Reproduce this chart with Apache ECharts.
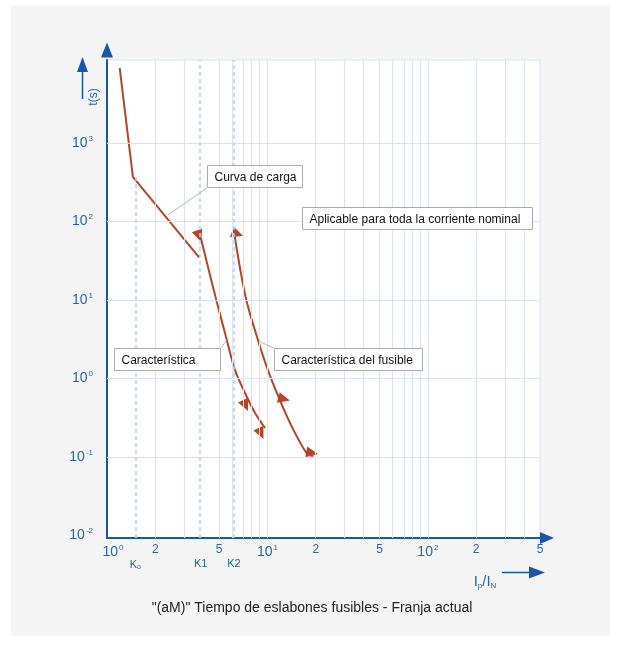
<!DOCTYPE html>
<html><head><meta charset="utf-8">
<script src="https://cdn.jsdelivr.net/npm/echarts@6/dist/echarts.min.js"></script>
<style>
html,body{margin:0;padding:0;background:#fff;}
#panel{position:absolute;left:11px;top:6px;width:599px;height:630px;background:#f4f4f4;}
#c{position:absolute;left:0;top:0;width:621px;height:649px;}
</style>
</head><body><div id="panel"></div><div id="c"></div>
<script>
// ---------- DATA ----------
// Load curve (Curva de carga): I/In and t(s)
const loadI = [1.2, 1.45, 3.75];
const loadT = [9000, 369, 35];
// Characteristic (Característica)
const charI = [3.85, 4.28, 4.83, 5.52, 6.28, 7.25, 8.37, 9.66];
const charT = [61, 25.4, 9.5, 3.38, 1.28, 0.653, 0.364, 0.234];
// Fuse characteristic (Característica del fusible)
const fuseI = [6.19, 6.75, 7.43, 8.61, 9.9, 11.7, 14.2, 17.6, 19.3];
const fuseT = [73.5, 25.4, 9.5, 3.38, 1.41, 0.586, 0.243, 0.111, 0.103];
// Arrow heads on the curves
const arrowI = [3.75, 7.30, 9.11, 6.51, 12.7, 19.0];
const arrowT = [65.3, 0.452, 0.199, 69.3, 0.548, 0.1125];
// Axis ranges
const xMin = 1, xMax = 500;
const yMin = 0.0093, yMax = 11400;
// Tick labels
const xTickValues = [1, 2, 5, 10, 20, 50, 100, 200, 500];
const xTickLabels = ['10|0', '2', '5', '10|1', '2', '5', '10|2', '2', '5'];
const yTickValues = [0.01, 0.1, 1, 10, 100, 1000];
const yTickLabels = ['10|-2', '10|-1', '10|0', '10|1', '10|2', '10|3'];
// K markers
const kValues = [1.5, 3.84, 6.19];
const kLabels = ['K|o', 'K1', 'K2'];
// Grid lines
const minorGridI = [2, 3, 5, 6, 7, 8, 9, 10, 20, 30, 40, 50, 60, 70, 80, 90, 100, 200, 300, 400, 500];
const decadeGridT = [0.1, 1, 10, 100, 1000];
// Texts
const titleText = '"(aM)" Tiempo de eslabones fusibles - Franja actual';
const callouts = [
  {text: 'Curva de carga', boxI: 4.20, boxT: 525, w: 95, lead: 'bl', toI: 2.40, toT: 121},
  {text: 'Aplicable para toda la corriente nominal', boxI: 16.4, boxT: 153, w: 230},
  {text: 'Característica', boxI: 1.106, boxT: 2.45, w: 106, lead: 'tr', toI: 5.57, toT: 3.09},
  {text: 'Característica del fusible', boxI: 10.99, boxT: 2.45, w: 148, lead: 'tl', toI: 9.0, toT: 2.94}
];

// ---------- STYLE ----------
const axisBlue = '#1b56a6';
const labelBlue = '#2a62b0';
const curveRed = '#b4452a';
const gridColor = '#d8e4f1';
const dashColor = '#b8cfe8';
const FONT = '"Liberation Sans", Arial, sans-serif';
const arrowRotation = [200, 205, 205, 250, 255, 260];

const lg = Math.log10;
const pts = (xs, ts) => xs.map((x, i) => [lg(x), lg(ts[i])]);
const near = (a, b) => Math.abs(a - b) < 1e-6;

function fmtLabel(s, lead) {
  if (s.indexOf('|') >= 0) {
    const p = s.split('|');
    return (lead ? '{sp|}' : '') + '{b|' + p[0] + '}{e|' + p[1] + '}';
  }
  return '{n|' + s + '}';
}
const richPow = {
  b: {fontSize: 14, color: labelBlue, fontFamily: FONT},
  e: {fontSize: 8, color: labelBlue, fontFamily: FONT, padding: [0, 0, 9, 1]},
  n: {fontSize: 12, color: labelBlue, fontFamily: FONT},
  sp: {width: 12}
};

const chart = echarts.init(document.getElementById('c'), null, {renderer: 'canvas'});

const gridLines = [];
minorGridI.forEach(v => gridLines.push({xAxis: lg(v)}));
decadeGridT.forEach(v => gridLines.push({yAxis: lg(v)}));
const dashStyle = {type: [4, 3], color: dashColor, width: 1.5};
gridLines.push({xAxis: lg(kValues[1]), lineStyle: dashStyle});
gridLines.push({xAxis: lg(kValues[2]), lineStyle: dashStyle});
gridLines.push([{coord: [lg(kValues[0]), lg(loadT[1])], lineStyle: dashStyle}, {coord: [lg(kValues[0]), lg(yMin)]}]);

const option = {
  animation: false,
  grid: {left: 107, right: 81, top: 60, bottom: 111, show: true, backgroundColor: '#ffffff', borderColor: gridColor, borderWidth: 1},
  xAxis: [{
    type: 'value', min: lg(xMin), max: lg(xMax), position: 'bottom',
    axisLine: {show: true, onZero: false, lineStyle: {color: axisBlue, width: 2}, symbol: ['none', 'triangle'], symbolSize: [12, 14], symbolOffset: [0, 7]},
    axisTick: {show: false}, splitLine: {show: false},
    axisLabel: {
      customValues: xTickValues.map(lg), margin: 6,
      formatter: v => { const i = xTickValues.findIndex(t => near(lg(t), v)); return i >= 0 ? fmtLabel(xTickLabels[i], i === 0) : ''; },
      rich: richPow
    }
  }, {
    type: 'value', min: lg(xMin), max: lg(xMax), position: 'bottom',
    axisLine: {show: false}, axisTick: {show: false}, splitLine: {show: false},
    axisLabel: {
      customValues: kValues.map(lg), margin: 20,
      formatter: v => { const i = kValues.findIndex(t => near(lg(t), v)); if (i < 0) return ''; const s = kLabels[i]; if (s.indexOf('|') >= 0) { const p = s.split('|'); return '{k|' + p[0] + '}{s|' + p[1] + '}'; } return '{k|' + s + '}'; },
      rich: {k: {fontSize: 11, color: labelBlue, fontFamily: FONT}, s: {fontSize: 7, color: labelBlue, fontFamily: FONT, padding: [6, 0, 0, 0]}}
    }
  }],
  yAxis: [{
    type: 'value', min: lg(yMin), max: lg(yMax),
    axisLine: {show: true, onZero: false, lineStyle: {color: axisBlue, width: 2}, symbol: ['none', 'triangle'], symbolSize: [12, 15], symbolOffset: [0, 10]},
    axisTick: {show: false}, splitLine: {show: false},
    axisLabel: {
      customValues: yTickValues.map(lg), margin: 14,
      formatter: v => { const i = yTickValues.findIndex(t => near(lg(t), v)); return i >= 0 ? fmtLabel(yTickLabels[i], false) : ''; },
      rich: richPow
    }
  }],
  series: [
    {type: 'line', data: [], z: 1, silent: true,
     markLine: {silent: true, symbol: 'none', label: {show: false}, animation: false,
       lineStyle: {color: gridColor, width: 1, type: 'solid'}, data: gridLines}},
    {type: 'line', name: 'Curva de carga', data: pts(loadI, loadT), showSymbol: false, z: 3,
     lineStyle: {color: curveRed, width: 2}},
    {type: 'line', name: 'Característica', data: pts(charI, charT), showSymbol: false, smooth: 0.3, z: 3,
     lineStyle: {color: curveRed, width: 2}},
    {type: 'line', name: 'Característica del fusible', data: pts(fuseI, fuseT), showSymbol: false, smooth: 0.3, z: 3,
     lineStyle: {color: curveRed, width: 2}},
    {type: 'scatter', data: arrowI.map((x, i) => ({value: [lg(x), lg(arrowT[i])], symbolRotate: arrowRotation[i]})),
     symbol: 'triangle', symbolSize: [11, 12], z: 4, itemStyle: {color: curveRed, opacity: 1}}
  ]
};
chart.setOption(option);

const px = (I, T) => chart.convertToPixel({xAxisIndex: 0, yAxisIndex: 0}, [lg(I), lg(T)]);
const g = [];
callouts.forEach(c => {
  const p = px(c.boxI, c.boxT);
  const x0 = Math.round(p[0]) + 0.5, y0 = Math.round(p[1]) + 0.5, h = 22;
  if (c.lead) {
    const sx = c.lead === 'tr' ? x0 + c.w : x0;
    const sy = c.lead === 'bl' ? y0 + h : y0;
    const t = px(c.toI, c.toT);
    g.push({type: 'line', z: 99, shape: {x1: sx, y1: sy, x2: t[0], y2: t[1]}, style: {stroke: '#b5b5b5', lineWidth: 1}});
  }
  g.push({type: 'rect', z: 100, shape: {x: x0, y: y0, width: c.w, height: h}, style: {fill: '#ffffff', stroke: '#ababab', lineWidth: 1}});
  g.push({type: 'text', z: 101, x: x0 + 7, y: y0 + h / 2 + 1,
    style: {text: c.text, font: '12px ' + FONT, fill: '#111', align: 'left', verticalAlign: 'middle', textAlign: 'left', textVerticalAlign: 'middle'}});
});
// y-axis title with arrow
g.push({type: 'line', z: 50, shape: {x1: 82.5, y1: 99, x2: 82.5, y2: 70}, style: {stroke: axisBlue, lineWidth: 1.5}});
g.push({type: 'polygon', z: 50, shape: {points: [[82.5, 57], [77, 72], [88, 72]]}, style: {fill: axisBlue}});
g.push({type: 'text', z: 50, x: 94, y: 97, rotation: Math.PI / 2,
  style: {text: 't(s)', font: '12px ' + FONT, fill: labelBlue, align: 'center', verticalAlign: 'middle', textAlign: 'center', textVerticalAlign: 'middle'}});
// x-axis title with arrow
g.push({type: 'text', z: 50, x: 485, y: 582,
  style: {text: '{a|I}{s|p}{a|/I}{s|N}', align: 'center', verticalAlign: 'middle', textAlign: 'center', textVerticalAlign: 'middle',
    rich: {a: {fontSize: 15, fill: labelBlue, fontFamily: FONT}, s: {fontSize: 8, fill: labelBlue, fontFamily: FONT, padding: [7, 0, 0, 0]}}}});
g.push({type: 'line', z: 50, shape: {x1: 502, y1: 572.5, x2: 531, y2: 572.5}, style: {stroke: axisBlue, lineWidth: 1.5}});
g.push({type: 'polygon', z: 50, shape: {points: [[545, 572.5], [529, 566.5], [529, 578.5]]}, style: {fill: axisBlue}});
// caption
g.push({type: 'text', z: 50, x: 312, y: 608,
  style: {text: titleText, font: '14px ' + FONT, fill: '#222', align: 'center', verticalAlign: 'middle', textAlign: 'center', textVerticalAlign: 'middle'}});
chart.setOption({graphic: g});
</script>
</body></html>
